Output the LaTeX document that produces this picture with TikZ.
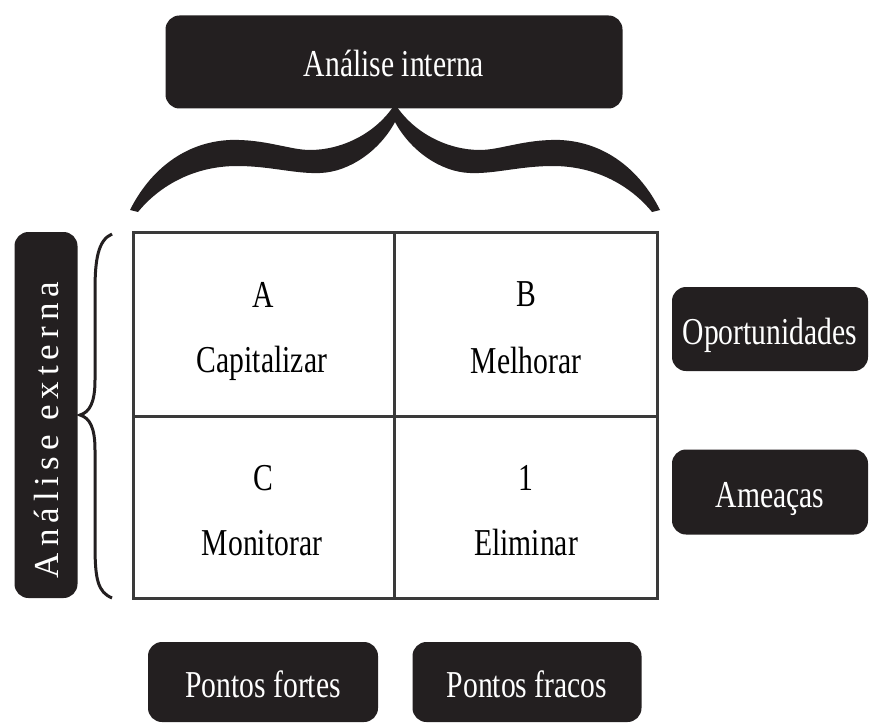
\documentclass[tikz,border=0pt]{standalone}
\usepackage{fontspec}
\setmainfont[FakeStretch=0.78]{Liberation Serif}
\newfontfamily\vfont[LetterSpace=17]{Liberation Serif}
\definecolor{boxfill}{HTML}{231F20}
\definecolor{gridcol}{HTML}{3A3A3A}
\begin{document}
\begin{tikzpicture}[x=1pt,y=-1pt,
  darkbox/.style={fill=boxfill, rounded corners=14pt, text=white, font=\fontsize{38}{40}\selectfont,
     inner sep=0pt, text height=30pt, text depth=0pt},
  celltext/.style={anchor=base, font=\fontsize{38}{40}\selectfont, text=black, inner sep=0pt},
  gridline/.style={draw=gridcol, line width=3pt}
]
\useasboundingbox (0,0) rectangle (869,722);
\fill[white] (0,0) rectangle (869,722);

% matrix grid
\coordinate (tl) at (133,232);
\coordinate (br) at (657,598);
\draw[gridline] (tl) rectangle (br);
\coordinate (vt) at (394,232);
\coordinate (vb) at (394,598);
\coordinate (hl) at (133,416);
\coordinate (hr) at (657,416);
\draw[gridline] (vt) -- (vb);
\draw[gridline] (hl) -- (hr);

% cell texts
\node[celltext] (a1) at (263,307) {A};
\node[celltext] (a2) at (262,372) {Capitalizar};
\node[celltext] (b1) at (526,306) {B};
\node[celltext] (b2) at (526,373) {Melhorar};
\node[celltext] (c1) at (263,490) {C};
\node[celltext] (c2) at (262,555) {Monitorar};
\node[celltext] (d1) at (526,490) {1};
\node[celltext] (d2) at (526,555) {Eliminar};

% top label
\node[darkbox, minimum width=457pt, minimum height=93pt] (ai) at (394,62) {Análise interna};

% big brace
\fill[boxfill]
  (130,210) .. controls (150,170) and (185,142) .. (230,140)
  .. controls (265,139) and (290,150) .. (310,150)
  .. controls (340,150) and (375,135) .. (395,104)
  .. controls (415,135) and (450,150) .. (480,150)
  .. controls (500,150) and (525,139) .. (560,140)
  .. controls (605,142) and (640,170) .. (660,210)
  -- (652,212)
  .. controls (630,185) and (595,166) .. (553,166)
  .. controls (520,166) and (495,174) .. (470,173)
  .. controls (440,172) and (410,150) .. (395,122)
  .. controls (380,150) and (350,172) .. (320,173)
  .. controls (295,174) and (270,166) .. (237,166)
  .. controls (195,166) and (160,185) .. (138,212)
  -- cycle;

% left label
\node[fill=boxfill, rounded corners=14pt, minimum width=63pt, minimum height=366pt, inner sep=0pt] (ae) at (46,415) {};
\node[text=white, rotate=90, font=\vfont\fontsize{35}{37}\selectfont, inner sep=0pt] (aet) at (47,430) {Análise externa};

% left thin brace
\draw[boxfill, line width=3pt]
  (112,234) .. controls (98,240) and (95,260) .. (95,290) -- (95,380)
  .. controls (95,402) and (90,412) .. (80,415)
  .. controls (90,418) and (95,428) .. (95,450) -- (95,545)
  .. controls (95,580) and (98,592) .. (112,598);

% right labels
\node[darkbox, minimum width=196pt, minimum height=84pt] (op) at (770,329) {Oportunidades};
\node[darkbox, minimum width=196pt, minimum height=85pt] (am) at (770,492) {Ameaças};

% bottom labels
\node[darkbox, minimum width=230pt, minimum height=80pt] (pf) at (263,682) {Pontos fortes};
\node[darkbox, minimum width=229pt, minimum height=80pt] (pc) at (527,682) {Pontos fracos};
\end{tikzpicture}
\end{document}
